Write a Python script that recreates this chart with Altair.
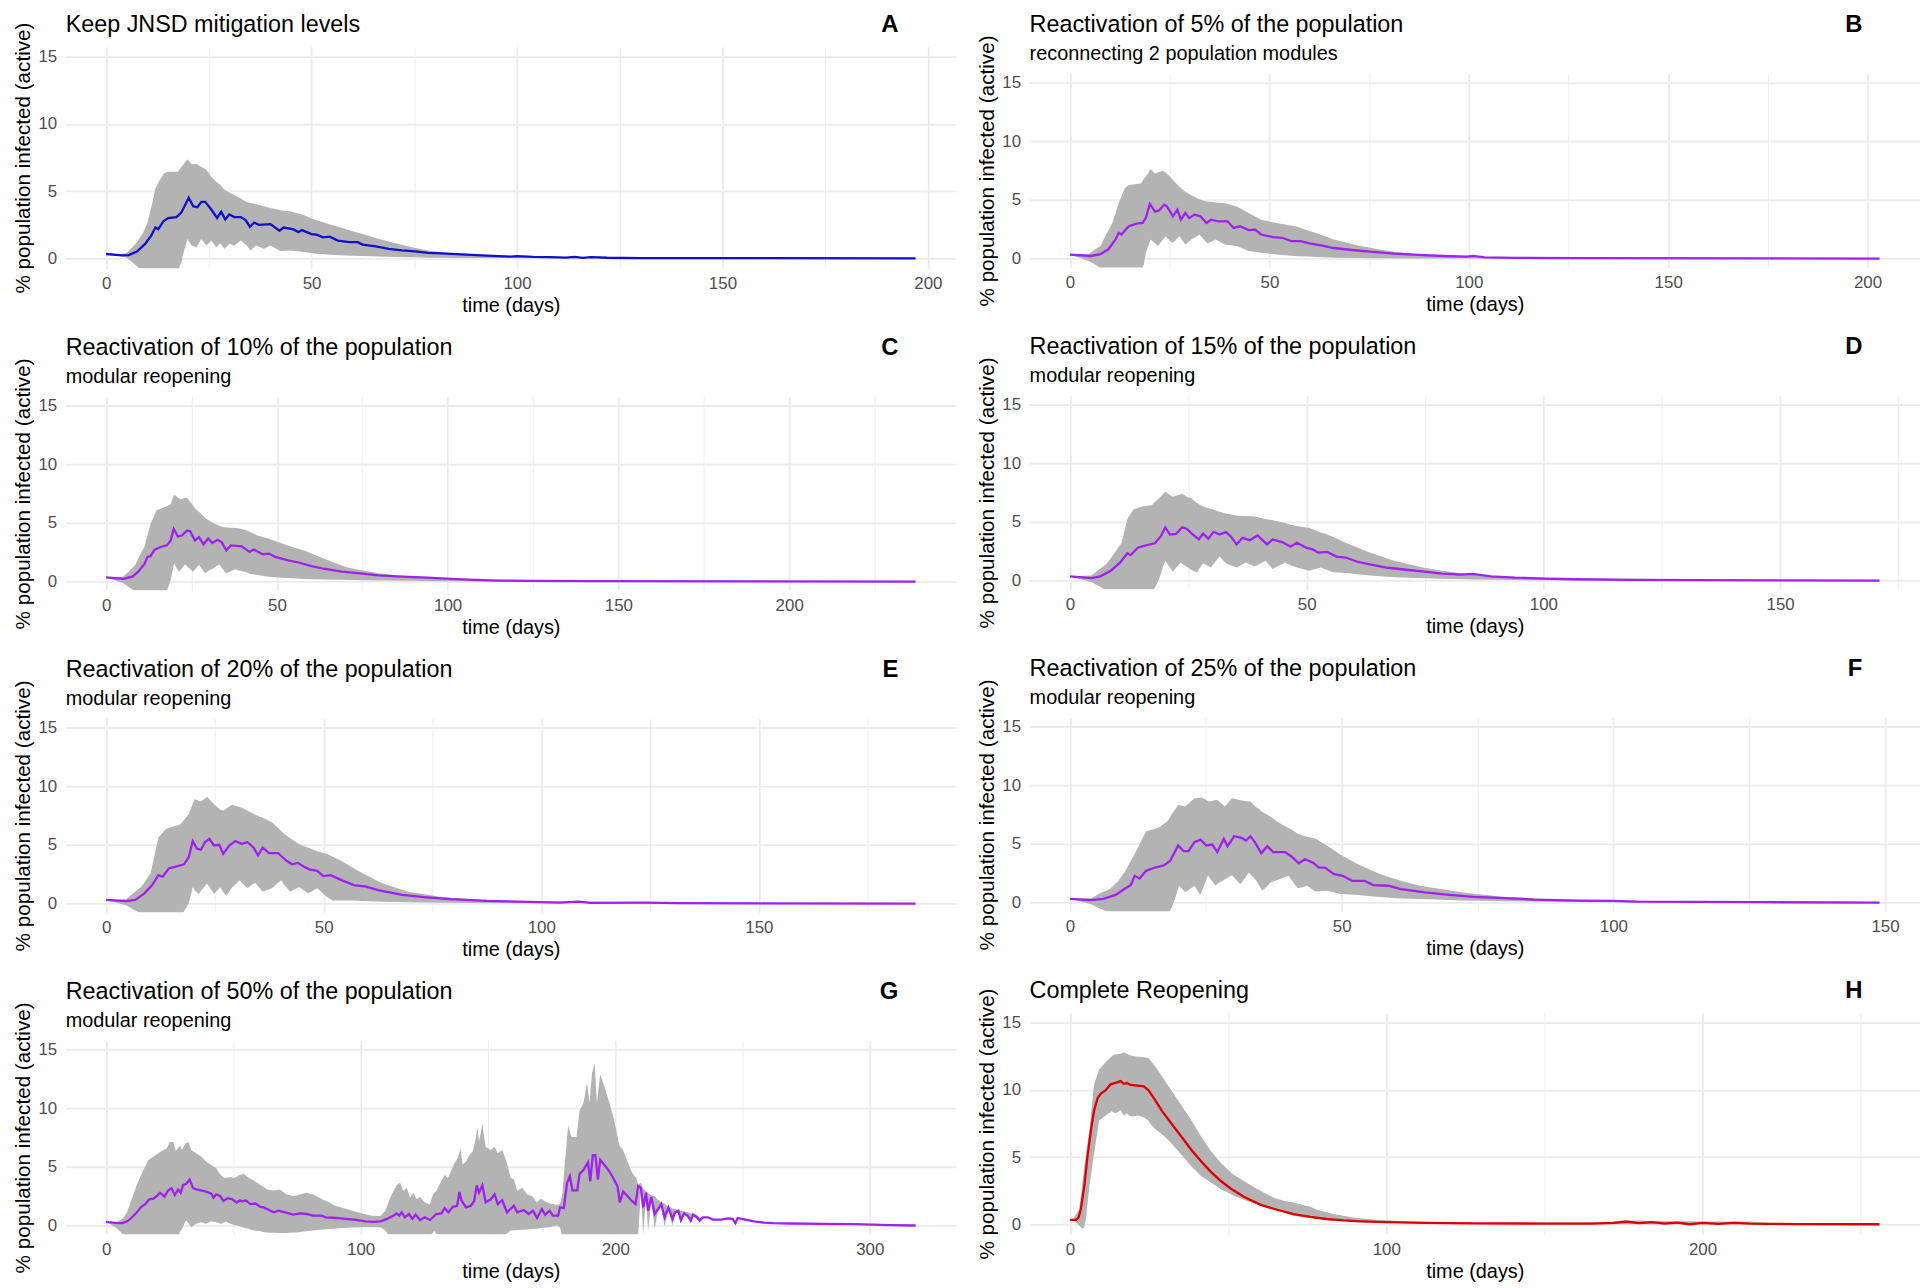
import altair as alt
import pandas as pd

FONT = "Liberation Sans"
BAND = "#B3B3B3"
BLUE = "#1010CC"
PURPLE = "#A020F0"
RED = "#DD0000"

# ---------------- data (day, mean) and (day, lower, upper) ----------------
A_mean = [(0,0.32),(3.9,0.22),(5.5,0.24),(7.5,0.5),(9.5,1.07),(11,1.7),(12,2.3),(12.7,2.17),(14,2.78),(15.1,3.0),(17.1,3.07),(18.3,3.4),(19.3,4.0),(20.1,4.5),(21.2,3.88),(22.2,3.8),(23.2,4.2),(24.1,4.2),(25.6,3.63),(27,3.0),(28,3.46),(29,2.9),(30,3.27),(31.2,3.07),(32.8,3.07),(34,2.83),(35,2.34),(36,2.66),(37.2,2.49),(40,2.54),(42.2,2.05),(43.2,2.29),(45.6,2.15),(46.8,1.95),(47.6,2.1),(50,1.8),(51.2,1.76),(52.8,1.56),(54.4,1.61),(56.4,1.32),(59.2,1.2),(61.2,1.2),(62.4,1.02),(65.6,0.88),(68.8,0.71),(72,0.59),(75.2,0.51),(78.4,0.41),(81.7,0.37),(86.5,0.29),(91.3,0.22),(98.5,0.12),(100,0.16),(104,0.1),(108,0.09),(112,0.05),(114,0.1),(116,0.03),(118,0.08),(122,0.04),(130,0.02),(150,0.01),(197,0.0)]
A_band = [(0,0.32,0.32),(3,0.2,0.3),(5,0.05,0.4),(6.3,-0.27,0.8),(7.5,-0.6,1.2),(9,-1.0,1.9),(10,-1.2,2.6),(11,-1.3,3.8),(12,-1.3,5.2),(13,-1.3,5.8),(14,-1.2,6.3),(15,-1.1,6.44),(17.5,-0.9,6.44),(18.3,-0.3,6.8),(19,0.6,7.05),(19.8,1.44,7.37),(20.8,0.95,7.0),(22,0.83,7.02),(23.2,1.44,6.8),(24.4,0.95,6.6),(25.6,1.32,6.07),(26.8,0.83,5.7),(27.8,1.12,5.45),(28.8,0.71,5.1),(30,1.07,4.9),(31.2,0.95,4.7),(32.8,1.32,4.45),(34.2,0.95,4.2),(35.2,0.58,4.12),(36.4,0.95,4.05),(38.4,0.71,3.88),(40,0.95,3.75),(42.4,0.54,3.58),(44.8,0.58,3.51),(48,0.46,3.22),(51.2,0.34,2.83),(54.4,0.27,2.54),(58.4,0.2,2.17),(62.4,0.17,1.8),(66.4,0.13,1.44),(70.4,0.1,1.12),(74.4,0.07,0.83),(78.4,0.05,0.59),(82.5,0.04,0.41),(86.5,0.03,0.34),(94.5,0.02,0.22),(105,0.01,0.12),(120,0.0,0.06),(197,0.0,0.0)]

B_mean = [(0,0.34),(5.3,0.22),(7.6,0.37),(9.6,0.79),(11.4,1.63),(12.2,2.19),(12.9,2.05),(14.7,2.75),(16.7,2.98),(18.2,3.03),(19,3.46),(20,4.66),(21.3,4.0),(22.3,4.1),(23.6,4.58),(24.3,4.44),(25.8,3.6),(26.9,4.16),(27.8,3.31),(28.9,3.88),(29.9,3.46),(31.2,3.74),(32.7,3.6),(34.2,3.03),(35.4,3.31),(37.2,3.17),(39.5,3.17),(41,2.61),(42.6,2.75),(44.8,2.42),(46.4,2.47),(47.9,2.05),(50.9,1.83),(53.2,1.77),(55.5,1.49),(57.8,1.49),(60,1.29),(63,1.12),(66.1,0.9),(70.7,0.73),(75.2,0.59),(81.3,0.42),(87.4,0.31),(93.5,0.22),(99.5,0.17),(101,0.22),(104,0.11),(111.7,0.06),(127,0.03),(203,0.0)]
B_band = [(0,0.34,0.34),(4.6,-0.2,0.37),(6,-0.45,0.7),(7.6,-0.8,1.07),(9,-1.1,2.0),(10.6,-1.3,3.03),(12.2,-1.3,4.72),(13.7,-1.3,5.98),(14.7,-1.3,6.26),(17.8,-1.1,6.4),(18.5,-0.5,6.8),(19,0.5,6.97),(20.2,1.63,7.61),(21.3,1.3,7.25),(22,1.07,7.35),(23.3,1.6,7.47),(23.9,1.91,7.35),(25.1,1.5,6.97),(25.8,1.35,6.7),(27.4,1.91,6.12),(28.9,1.2,5.7),(29.6,1.4,5.56),(30.4,1.63,5.4),(31.9,1.9,5.14),(32.4,2.05,5.05),(34.2,1.4,4.86),(34.5,1.29,4.85),(36.5,1.63,4.78),(38.8,1.2,4.72),(41.8,1.07,4.44),(44.8,0.65,3.88),(47.9,0.5,3.31),(52.4,0.33,2.98),(54,0.28,2.9),(57,0.2,2.7),(60,0.17,2.35),(61.6,0.14,2.19),(66.1,0.08,1.63),(72.2,0.05,1.12),(75,0.03,0.95),(78.3,0.02,0.73),(84.3,0.01,0.45),(93.5,0.0,0.22),(102.6,0.0,0.11),(120,0.0,0.05),(203,0.0,0.0)]

C_mean = [(0,0.36),(5,0.22),(7.7,0.42),(9.4,0.84),(11.2,1.48),(12.1,2.1),(13,2.16),(14.2,2.72),(16,2.94),(17.8,3.08),(18.9,3.5),(19.8,4.48),(21,3.84),(22.2,3.92),(23.7,4.34),(24.6,4.29),(26,3.5),(27.2,3.78),(28.5,3.17),(29.9,3.67),(31.1,3.28),(32.6,3.56),(33.8,3.36),(35.2,2.66),(36.5,3.08),(39.7,3.0),(42,2.52),(43.2,2.72),(45.9,2.32),(47.7,2.38),(49.5,2.1),(53,1.82),(56.6,1.6),(60.1,1.32),(63.7,1.09),(69,0.84),(74.4,0.7),(79.7,0.53),(86.8,0.42),(94,0.34),(101,0.22),(108,0.14),(115,0.08),(124,0.06),(142,0.03),(237,0.0)]
C_band = [(0,0.36,0.36),(5,-0.14,0.42),(6.8,-0.5,0.9),(8.5,-0.85,1.4),(10,-1.2,2.3),(11.2,-1.3,2.94),(13,-1.3,4.9),(14.8,-1.3,6.08),(17.4,-1.1,6.36),(18.3,-0.4,6.5),(18.9,0.14,6.58),(19.9,1.54,7.42),(21.3,0.84,7.1),(21.9,1.0,7.0),(23.1,1.48,7.12),(23.7,1.3,7.14),(25.4,0.84,6.5),(26.3,1.1,6.16),(27.2,1.4,5.95),(29,0.7,5.4),(29.9,0.9,5.24),(31.3,1.12,5.0),(33.1,1.48,4.75),(34.3,1.0,4.62),(35.2,0.7,4.6),(37.9,1.04,4.55),(38.8,0.95,4.54),(40.6,0.84,4.4),(42.3,0.65,4.2),(44.1,0.56,3.95),(47.7,0.4,3.64),(49.5,0.36,3.45),(53,0.3,3.08),(58.4,0.22,2.6),(63.7,0.18,1.96),(69,0.15,1.37),(70.8,0.14,1.2),(74.4,0.11,0.98),(79.7,0.08,0.7),(86.8,0.06,0.48),(88.6,0.06,0.44),(97.5,0.03,0.28),(108,0.01,0.17),(125,0.0,0.08),(237,0.0,0.0)]

D_mean = [(0,0.36),(4.5,0.2),(6.4,0.36),(8.6,0.84),(10.6,1.54),(12.1,2.32),(12.8,2.16),(14.3,2.8),(16,3.0),(17.9,3.17),(19.2,3.78),(20.1,4.54),(21.1,3.92),(22.4,3.98),(23.7,4.54),(24.7,4.4),(25.9,3.92),(27.2,3.5),(28.1,4.0),(29.2,3.56),(30.3,4.15),(31.6,3.92),(32.9,4.12),(33.9,3.78),(35.2,3.08),(36.4,3.64),(38,3.44),(39.6,3.84),(41.6,3.08),(42.8,3.5),(44.8,3.28),(46.6,2.88),(47.9,3.22),(49.9,2.8),(51.2,2.66),(52.4,2.38),(54.3,2.44),(56.3,2.04),(58.2,1.96),(60.7,1.6),(63.3,1.37),(67.1,1.09),(71,0.92),(74.8,0.76),(78.6,0.59),(82.5,0.5),(85,0.56),(88.9,0.36),(94,0.25),(100.4,0.17),(106.8,0.11),(119.6,0.06),(132.4,0.03),(171,0.0)]
D_band = [(0,0.36,0.36),(4.5,-0.14,0.42),(6,-0.45,0.9),(7.7,-0.85,1.4),(9.5,-1.2,2.4),(10.9,-1.3,3.22),(12.1,-1.3,5.24),(13.4,-1.3,6.08),(15.3,-1.3,6.3),(17.3,-1.1,6.44),(18.2,-0.4,6.8),(18.8,0.14,7.0),(20.1,1.68,7.56),(21.7,0.76,7.14),(23.4,1.54,7.35),(23.7,1.4,7.37),(24.9,1.12,7.1),(25.6,0.9,7.0),(26.8,0.7,6.6),(28.1,1.48,6.3),(29.8,1.12,6.1),(30.1,1.3,6.08),(31.6,2.04,5.85),(32.6,1.6,5.74),(33.2,1.4,5.68),(35.2,1.12,5.52),(37.1,1.54,5.5),(39,1.2,5.46),(41.3,1.68,5.25),(42.8,0.98,5.13),(45.4,1.54,4.9),(46.6,1.3,4.76),(47.9,1.12,4.65),(50.5,0.84,4.48),(53,1.12,4.1),(54.3,0.9,3.92),(55.6,0.7,3.7),(58.2,0.64,3.22),(63.3,0.42,2.38),(68.4,0.28,1.68),(73.5,0.22,1.2),(74.8,0.2,1.1),(78.6,0.16,0.84),(81.2,0.14,0.7),(85,0.1,0.5),(90,0.06,0.35),(94,0.04,0.28),(106.8,0.01,0.14),(125,0.0,0.06),(171,0.0,0.0)]

E_mean = [(0,0.31),(4.6,0.2),(6.7,0.31),(8.8,0.87),(10.6,1.57),(12,2.42),(13,2.28),(14.4,2.98),(16.2,3.17),(17.9,3.34),(19,3.96),(19.9,5.31),(20.9,4.66),(21.8,4.58),(22.7,5.22),(23.7,5.5),(24.8,4.94),(26,5.0),(26.9,4.24),(28.3,4.94),(29.7,5.31),(31.1,5.08),(32.5,5.22),(33.9,4.75),(34.9,4.1),(36,4.75),(37.4,4.3),(39.5,4.3),(41.3,3.68),(42.7,3.34),(44.1,3.46),(45.5,3.12),(46.9,2.89),(48.5,2.78),(49.9,2.33),(51.6,2.42),(54.1,1.99),(56.9,1.57),(59.7,1.43),(62.5,1.15),(68,0.73),(73.6,0.53),(79.2,0.37),(87.6,0.22),(94.6,0.17),(104.3,0.08),(108.5,0.17),(111.3,0.06),(123.8,0.08),(132,0.03),(186,0.0)]
E_band = [(0,0.31,0.31),(4.6,-0.14,0.37),(6.3,-0.5,0.9),(8.1,-0.85,1.43),(10.2,-1.2,2.56),(12,-1.3,5.59),(13.7,-1.3,6.35),(17.2,-1.1,6.77),(18.3,-0.4,7.3),(19,0.03,7.61),(19.9,1.38,8.5),(20.4,1.1,8.88),(21.3,0.81,8.75),(21.8,1.1,8.68),(23.2,1.71,9.1),(24.8,0.81,8.46),(26.2,1.38,8.0),(26.9,1.0,7.89),(27.6,0.65,8.1),(29,1.38,8.4),(30.7,1.99,8.2),(31.1,1.8,8.17),(32.5,1.29,7.9),(33.5,1.6,7.7),(34.3,1.77,7.55),(35.3,1.3,7.39),(36,1.01,7.3),(38.1,1.29,6.91),(40.2,1.99,6.2),(40.9,1.6,5.93),(42.3,1.01,5.55),(43.7,1.3,5.22),(44.4,1.38,5.05),(46.4,0.87,4.75),(47.1,1.0,4.66),(48.5,1.29,4.45),(50.6,0.6,4.24),(52,0.25,4.0),(54.1,0.25,3.62),(56.9,0.25,3.0),(58.3,0.22,2.7),(62.5,0.17,1.9),(63.9,0.16,1.66),(69.5,0.11,1.01),(76.4,0.07,0.59),(79.2,0.06,0.5),(84.8,0.04,0.31),(93.2,0.02,0.17),(108,0.05,0.18),(125,0.0,0.08),(186,0.0,0.0)]

F_mean = [(0,0.31),(3.9,0.2),(6.1,0.31),(8.4,0.65),(10,1.15),(11.2,1.49),(11.9,2.28),(12.8,2.05),(14,2.7),(15.6,2.98),(17.3,3.17),(18.4,3.54),(19.9,4.86),(20.9,4.38),(21.8,4.38),(22.9,5.14),(24,5.36),(25.1,4.86),(26.2,4.94),(27.1,4.3),(28.3,5.42),(29,4.8),(30.2,5.65),(31.6,5.5),(32.4,5.28),(33.2,5.65),(34.1,5.08),(35.2,4.19),(36.3,4.8),(37.4,4.3),(39.6,4.3),(40.8,3.9),(42.1,3.34),(43.2,3.68),(44.7,3.4),(45.8,2.98),(46.9,2.98),(48.6,2.42),(50.2,2.28),(51.9,1.85),(54.2,1.85),(55.8,1.49),(58.6,1.43),(60.9,1.15),(65.3,0.87),(69.8,0.65),(74.3,0.48),(79.8,0.37),(85.4,0.25),(93.2,0.17),(99.9,0.14),(104.4,0.08),(115.6,0.06),(126.7,0.03),(149,0.0)]
F_band = [(0,0.31,0.31),(3.9,-0.14,0.37),(5.5,-0.5,0.8),(7.3,-0.85,1.15),(8.8,-1.1,1.8),(10,-1.3,2.56),(11.7,-1.3,3.96),(14,-1.3,6.07),(16.2,-1.3,6.35),(17.9,-1.1,6.91),(18.7,-0.4,7.5),(19.3,0.31,7.9),(19.9,1.2,8.31),(20.1,1.43,8.3),(21.2,0.87,8.17),(22.9,1.43,8.88),(24,0.65,8.92),(24.2,0.9,8.96),(25.4,2.33,8.65),(25.7,2.1,8.6),(26.8,1.43,8.74),(27.1,1.6,8.74),(28.5,1.99,8.17),(29.8,2.33,8.88),(31.3,1.57,8.7),(31.6,1.7,8.68),(32.9,2.56,8.6),(33.2,2.4,8.6),(34.3,1.85,8.1),(34.6,1.6,8.03),(35.4,1.01,7.7),(36.3,1.4,7.47),(36.9,1.71,7.3),(38.5,1.99,6.77),(40.2,2.28,6.35),(40.8,1.9,6.21),(41.9,1.21,5.85),(42.8,1.3,5.7),(43.6,1.43,5.6),(45.2,0.93,5.42),(47.5,1.01,4.8),(49.7,0.73,4.1),(53,0.65,3.26),(56.4,0.5,2.56),(57.5,0.45,2.35),(60.9,0.35,1.85),(64.2,0.31,1.45),(66.4,0.27,1.29),(70.9,0.2,0.95),(72,0.18,0.87),(78.7,0.12,0.53),(79.8,0.11,0.5),(87.7,0.06,0.31),(98.9,0.02,0.17),(115,0.0,0.08),(149,0.0,0.0)]

G_mean = [(0,0.31),(3.7,0.22),(6.3,0.2),(8.3,0.36),(10.2,0.7),(12.1,1.12),(13.8,1.59),(15.4,1.82),(16.9,2.23),(18.6,2.29),(19.9,2.51),(21.2,2.79),(22.9,2.46),(24.4,2.99),(25.7,3.16),(27,2.6),(28.3,3.07),(29.3,2.79),(30.2,3.44),(31.5,3.55),(32.8,3.91),(34.1,3.21),(35.4,3.07),(37.3,2.99),(39.3,2.88),(41.2,2.74),(42.2,2.37),(43.2,2.65),(44.8,2.51),(46.1,2.09),(47.7,2.32),(49.6,2.23),(51.3,1.96),(52.6,2.15),(53.5,2.04),(54.8,2.15),(56.7,1.82),(58.7,1.87),(60.6,1.59),(61.9,1.54),(63.8,1.34),(65.8,1.12),(67.7,1.26),(70.3,1.12),(73.5,0.92),(76.1,1.03),(78.7,0.98),(81.3,0.84),(84.5,0.84),(86.4,0.7),(90.3,0.64),(94.2,0.56),(98.1,0.47),(101.9,0.36),(105.2,0.31),(107.8,0.36),(110.3,0.56),(112.9,0.84),(114.2,1.03),(115.2,0.84),(116.1,1.12),(117.4,0.7),(119,0.98),(120.3,0.56),(121.6,0.92),(123.3,0.47),(125.2,0.7),(127.2,0.47),(128.4,0.7),(129.7,0.98),(131.7,1.03),(133,1.48),(134.5,1.12),(136.2,1.59),(137.9,1.68),(138.8,2.85),(139.7,2.09),(141.4,1.54),(143.3,1.68),(144.6,2.09),(145.6,3.41),(146.5,2.79),(147.8,3.44),(149.1,1.98),(151.1,2.23),(152.6,2.65),(153.9,1.82),(155.6,2.15),(157.5,1.12),(158.8,1.4),(160.2,1.68),(161.5,1.12),(164,1.31),(166,0.98),(167.7,1.26),(169.3,0.64),(171.2,1.4),(172.5,0.92),(174.2,1.26),(175.5,0.84),(177.6,0.84),(178.3,1.54),(179.8,1.48),(181.1,3.63),(182.2,4.19),(183.2,2.99),(185.1,2.99),(186,4.39),(187.6,4.75),(189.3,5.39),(190.2,3.77),(191.2,6.0),(192.2,6.0),(193.2,3.91),(194.1,5.59),(195.7,5.17),(197.7,4.61),(199.2,4.05),(200.9,3.35),(201.8,1.96),(203.1,2.88),(204.8,2.51),(206.5,2.09),(208,1.82),(209,3.35),(210.1,3.21),(211,1.54),(212.1,2.79),(212.9,1.26),(214.2,2.43),(215.5,0.98),(216.8,1.4),(218.1,1.82),(219.4,0.7),(220.9,1.54),(222.5,0.56),(223.5,1.12),(224.8,1.26),(225.8,0.47),(227.1,1.03),(228.4,0.84),(229.7,0.42),(230.6,0.92),(231.9,0.75),(233.2,0.42),(234.5,0.7),(236.4,0.7),(238.4,0.5),(241.6,0.5),(244.2,0.61),(246.1,0.56),(247.2,0.2),(248.1,0.64),(250.6,0.53),(254.5,0.36),(258.4,0.25),(262.3,0.2),(268.7,0.17),(281.7,0.14),(294.6,0.11),(307.5,0.03),(318,0.0)]
G_band = [(0,0.31,0.31),(3.7,-0.14,0.28),(5.5,-0.5,0.45),(7,-0.9,0.7),(8.3,-1.2,1.2),(9.6,-1.3,1.96),(12.1,-1.3,3.49),(14.1,-1.3,4.47),(16.7,-1.3,5.59),(18.6,-1.3,5.87),(20.5,-1.3,6.15),(22.5,-1.3,6.42),(23.8,-1.3,6.56),(25.1,-1.3,7.12),(26.4,-1.3,7.12),(27.4,-1.2,6.34),(28.3,-1.0,6.6),(29,-0.56,6.84),(29.8,-0.28,6.42),(31.1,0.3,6.98),(31.5,0.42,7.0),(32.4,0.2,7.12),(33.4,-0.14,6.42),(35.4,0.14,6.15),(37.3,0.28,5.87),(39.3,0.14,5.45),(41.2,0.36,5.17),(43.2,0.28,4.89),(44.4,0.2,4.47),(45.1,0.14,4.3),(46.4,0.25,4.05),(47,0.36,4.07),(48.3,0.2,4.11),(49,0.14,4.1),(50.3,0.05,4.05),(51.6,0.0,4.2),(52.2,-0.05,4.27),(54.1,-0.2,4.39),(56.1,-0.3,4.05),(58,-0.42,3.83),(60.6,-0.5,3.44),(61.9,-0.56,3.3),(63.2,-0.6,3.07),(65.8,-0.62,2.99),(68.3,-0.64,3.07),(70.9,-0.63,2.65),(73.5,-0.6,2.51),(74.8,-0.59,2.55),(76.1,-0.55,2.65),(78.7,-0.48,2.79),(81.3,-0.42,2.65),(83.8,-0.36,2.37),(86.4,-0.31,2.09),(87.7,-0.3,1.95),(89,-0.27,1.76),(92.9,-0.22,1.48),(94.2,-0.2,1.42),(96.8,-0.17,1.26),(100.6,-0.14,1.03),(104.5,-0.14,0.84),(107.8,-0.15,0.81),(109.7,-0.42,1.26),(111.6,-1.0,2.37),(112.9,-1.3,2.93),(114.2,-1.3,3.44),(115.5,-1.3,3.63),(116.8,-1.3,2.93),(118.1,-1.3,3.21),(119.4,-1.3,2.37),(120.7,-1.3,2.79),(122,-1.3,2.23),(123.3,-1.3,2.43),(125.2,-1.2,1.96),(127.2,-0.9,1.82),(128.4,-0.6,2.65),(129.1,-0.47,2.8),(129.7,-0.7,2.93),(131,-1.2,3.5),(131.7,-1.3,3.77),(133,-1.3,4.33),(134.3,-1.3,4.05),(135.5,-1.3,4.61),(136.8,-1.3,5.31),(138.1,-1.3,5.73),(139.2,-1.3,6.51),(140.1,-1.3,5.17),(141.4,-1.3,5.45),(142.7,-1.3,6.0),(144,-1.3,6.28),(145.2,-1.3,7.4),(145.9,-1.3,8.38),(146.5,-1.3,7.12),(147.8,-1.3,8.66),(149.1,-1.3,6.7),(151.1,-1.3,6.42),(152.6,-1.3,6.7),(153.9,-1.2,6.15),(155.6,-1.0,6.42),(157.3,-0.7,5.45),(158.9,-0.42,4.05),(160.2,-0.4,3.91),(161.5,-0.38,2.93),(163.5,-0.36,3.21),(165.4,-0.33,2.65),(167.3,-0.3,2.51),(169.3,-0.28,1.96),(170.8,-0.22,2.29),(172.5,-0.18,2.04),(174.4,-0.14,1.87),(177,0.0,1.76),(178.3,-0.14,1.82),(179.3,-1.0,2.8),(179.6,-1.3,3.77),(181.5,-1.3,8.52),(182.8,-1.3,7.54),(184.8,-1.3,7.54),(186,-1.3,9.78),(187.6,-1.3,10.47),(188.9,-1.3,12.15),(189.9,-1.3,10.47),(190.9,-1.3,12.99),(191.9,-1.3,13.83),(192.8,-1.3,10.47),(194.1,-1.3,12.85),(195.7,-1.3,11.87),(197.7,-1.3,10.47),(199.6,-1.3,8.94),(201.6,-1.3,6.84),(203.1,-1.3,6.42),(204.8,-1.3,5.45),(206.7,-1.3,4.47),(208.3,-1.3,4.05),(209,-0.8,3.5),(210.1,2.9,3.63),(211,-0.8,3.1),(212.1,2.5,2.93),(212.9,-0.5,2.75),(214.2,2.1,2.6),(215.5,-0.3,2.5),(216.8,1.2,2.2),(218.1,1.6,2.0),(219.4,-0.1,1.85),(220.9,1.3,1.6),(222.5,0.0,1.45),(223.5,1.0,1.4),(224.8,1.1,1.32),(225.8,0.1,1.28),(227.1,0.9,1.2),(228.4,0.7,1.12),(229.7,0.2,1.05),(230.6,0.8,1.0),(231.9,0.6,0.9),(233.2,0.25,0.7),(234.5,0.6,0.72),(236.4,0.7,0.7)]

H_mean = [(0,0.32),(1.9,0.32),(2.7,0.51),(3.4,1.12),(4.5,2.84),(5.5,5.04),(6.6,6.99),(7.6,8.46),(8.7,9.39),(9.7,9.73),(11.3,9.98),(12.8,10.42),(14.6,10.54),(16,10.66),(17,10.46),(18,10.51),(19.1,10.37),(21.2,10.32),(23.3,10.27),(24.8,9.98),(26.9,9.24),(29,8.46),(32.1,7.48),(35.3,6.5),(38.4,5.53),(41.5,4.67),(44.7,3.86),(47.8,3.2),(50.9,2.64),(55.1,2.03),(60.3,1.44),(65.5,1.08),(70.7,0.76),(76,0.54),(81.2,0.39),(86.4,0.29),(91.6,0.22),(100,0.15),(112.5,0.1),(128.1,0.07),(150,0.05),(165,0.05),(172,0.1),(176,0.2),(180,0.08),(184,0.15),(188,0.05),(192,0.12),(196,0.0),(200,0.1),(205,0.03),(210,0.1),(215,0.05),(220,0.03),(230,0.01),(256,0.0)]
H_band = [(0,0.32,0.32),(0.8,0.32,0.32),(2.9,-0.1,1.12),(4,-0.34,3.3),(4.5,-0.2,4.3),(5,0.39,5.2),(6.1,2.84,6.99),(7.6,5.28,10.42),(9.2,7.73,11.52),(11.3,8.09,12.08),(13.2,8.41,12.5),(13.9,8.3,12.62),(14.6,8.26,12.65),(16,8.51,12.7),(17,8.09,12.81),(18,8.26,12.7),(18.6,8.1,12.62),(19.6,8.02,12.55),(20.7,8.05,12.49),(21.7,8.09,12.47),(23.3,7.97,12.44),(24.8,7.7,12.37),(25.4,7.48,12.2),(26.9,7.1,11.76),(27.4,6.99,11.6),(29,6.7,11.03),(30.1,6.5,10.65),(32.1,6.01,9.93),(35.3,5.16,8.83),(38.4,4.3,7.73),(41.5,3.57,6.5),(44.7,3.08,5.4),(47.8,2.59,4.55),(50.9,2.25,3.86),(52,2.1,3.65),(55.1,1.8,3.2),(56.1,1.71,3.05),(60.3,1.42,2.47),(64.5,1.12,1.98),(67.6,0.88,1.74),(70.7,0.64,1.61),(73.9,0.52,1.42),(76,0.44,1.3),(78,0.4,1.08),(81.2,0.32,0.9),(83.3,0.28,0.76),(89.5,0.2,0.51),(91.6,0.2,0.45),(96.8,0.14,0.34),(100,0.12,0.3),(107.2,0.08,0.2),(130,0.03,0.1),(170,0.0,0.15),(175,0.0,0.3),(185,0.0,0.25),(200,0.0,0.2),(215,0.0,0.2),(225,0.0,0.05),(256,0.0,0.0)]

PANELS = [
    ("Keep JNSD mitigation levels", "", "A", BLUE, A_mean, A_band, 50),
    ("Reactivation of 5% of the population", "reconnecting 2 population modules", "B", PURPLE, B_mean, B_band, 50),
    ("Reactivation of 10% of the population", "modular reopening", "C", PURPLE, C_mean, C_band, 50),
    ("Reactivation of 15% of the population", "modular reopening", "D", PURPLE, D_mean, D_band, 50),
    ("Reactivation of 20% of the population", "modular reopening", "E", PURPLE, E_mean, E_band, 50),
    ("Reactivation of 25% of the population", "modular reopening", "F", PURPLE, F_mean, F_band, 50),
    ("Reactivation of 50% of the population", "modular reopening", "G", PURPLE, G_mean, G_band, 100),
    ("Complete Reopening", "", "H", RED, H_mean, H_band, 100),
]

W = 896
H_SUB = 195
H_NOSUB = 223


def panel(title, subtitle, letter, color, mean, band, step):
    h = H_SUB if subtitle else H_NOSUB
    tmax = mean[-1][0]
    dom = [-0.05 * tmax, 1.05 * tmax]
    xvals = []
    v = 0.0
    while v <= dom[1]:
        xvals.append(v)
        v += step / 2
    mdf = pd.DataFrame(mean, columns=["t", "v"])
    bdf = pd.DataFrame(band, columns=["t", "lo", "hi"])
    xs = alt.Scale(domain=dom, nice=False, zero=False)
    ys = alt.Scale(domain=[-0.75, 15.75], nice=False, zero=False)
    xaxis = alt.Axis(
        title="time (days)", values=xvals, titleFontSize=20,
        labelExpr=f"datum.value % {step} === 0 ? datum.label : ''",
        gridWidth={"condition": {"test": f"datum.value % {step} !== 0", "value": 0.9}, "value": 1.8},
        labelPadding=7, titlePadding=4, labelOverlap=False, labelFlush=False,
    )
    yaxis = alt.Axis(
        title="% population infected (active)", values=[0, 2.5, 5, 7.5, 10, 12.5, 15],
        titleFontSize=20.8,
        labelExpr="datum.value % 5 === 0 ? datum.label : ''",
        gridWidth={"condition": {"test": "datum.value % 5 !== 0", "value": 0.9}, "value": 1.8},
        labelPadding=9, titlePadding=4, labelOverlap=False,
    )
    band_layer = alt.Chart(bdf).mark_area(color=BAND, opacity=1, clip=True).encode(
        x=alt.X("t:Q", scale=xs, axis=xaxis),
        y=alt.Y("hi:Q", scale=ys, axis=yaxis),
        y2="lo:Q",
    )
    line_layer = alt.Chart(mdf).mark_line(color=color, strokeWidth=2.3, clip=True).encode(
        x="t:Q", y="v:Q"
    )
    lab = pd.DataFrame({"title": [title], "sub": [subtitle], "letter": [letter]})
    ty = -41.5 if subtitle else -14.5
    t_title = alt.Chart(lab).mark_text(align="left", baseline="alphabetic", fontSize=23.5,
                                       font=FONT, color="black").encode(
        x=alt.value(0), y=alt.value(ty), text="title:N")
    t_letter = alt.Chart(lab).mark_text(align="right", baseline="alphabetic", fontSize=24,
                                        fontWeight="bold", font=FONT, color="black").encode(
        x=alt.value(W - 58), y=alt.value(ty), text="letter:N")
    layers = [band_layer, line_layer, t_title, t_letter]
    if subtitle:
        t_sub = alt.Chart(lab).mark_text(align="left", baseline="alphabetic", fontSize=20,
                                         font=FONT, color="black").encode(
            x=alt.value(0), y=alt.value(-13.5), text="sub:N")
        layers.append(t_sub)
    return alt.layer(*layers).properties(width=W, height=h)


def spacer():
    return alt.Chart(pd.DataFrame({"a": [0]})).mark_point(opacity=0, size=1).properties(
        width=1, height=1)


charts = [panel(*p) for p in PANELS]
col1 = alt.vconcat(alt.vconcat(spacer(), charts[0], spacing=0),
                   charts[2], charts[4], charts[6], spacing=21)
col2 = alt.vconcat(alt.vconcat(spacer(), charts[1], spacing=0),
                   charts[3], charts[5], charts[7], spacing=21)
chart = alt.hconcat(col1, col2, spacing=21).properties(
    padding={"left": 5, "top": 0, "right": 0, "bottom": 0}
).configure(font=FONT).configure_view(
    strokeWidth=0
).configure_axis(
    domain=False, ticks=False, labelColor="#4D4D4D", labelFontSize=17,
    titleColor="black", titleFontWeight="normal",
    gridColor="#EBEBEB", labelFont=FONT, titleFont=FONT,
)

chart.save("out.html", embed_options={"renderer": "svg", "actions": False})
